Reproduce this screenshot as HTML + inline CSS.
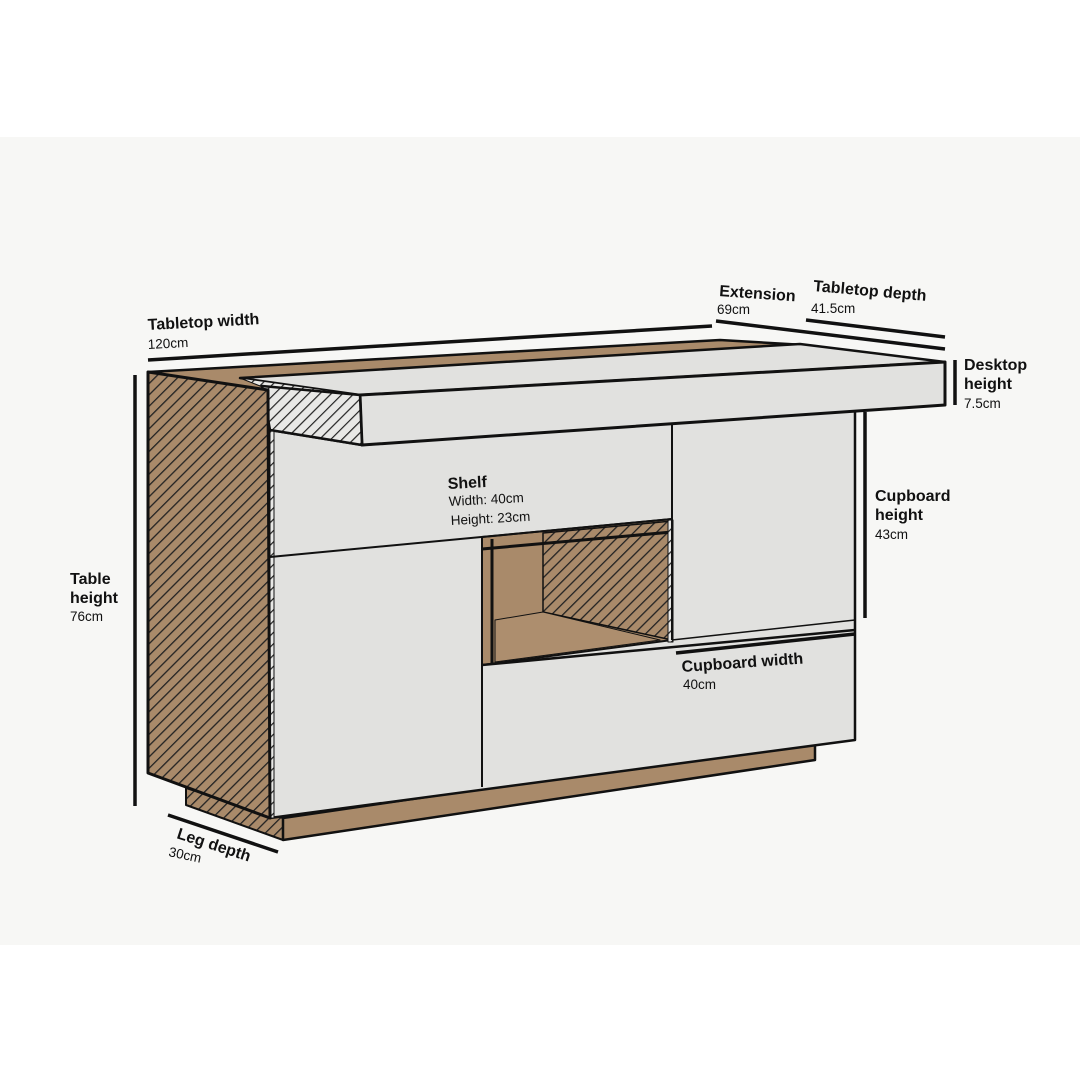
<!DOCTYPE html>
<html><head><meta charset="utf-8"><style>
html,body{margin:0;padding:0;background:#fff}
svg{display:block}
text{font-family:"Liberation Sans",sans-serif;fill:#111}
.b{font-weight:bold;font-size:16px}
.n{font-size:13.5px}
</style></head><body>
<svg width="1080" height="1080" viewBox="0 0 1080 1080" xmlns="http://www.w3.org/2000/svg">
<defs>
<pattern id="h" patternUnits="userSpaceOnUse" width="8" height="8" patternTransform="rotate(45)">
<rect width="8" height="8" fill="#a98a6a"/><rect width="1.3" height="8" fill="#222"/>
</pattern>
<pattern id="hw" patternUnits="userSpaceOnUse" width="8" height="8" patternTransform="rotate(45)">
<rect width="8" height="8" fill="#e8e8e6"/><rect width="1.2" height="8" fill="#222"/>
</pattern>
</defs>
<rect x="0" y="137" width="1080" height="808" fill="#f7f7f5"/>
<g stroke="#111" stroke-linejoin="round">
<polygon points="148,372 720,340 805,345 270,392" fill="#a98a6a" stroke-width="2.5"/>
<polygon points="186,788 283,818 283,840 186,805" fill="url(#h)" stroke-width="2"/>
<polygon points="283,818 815,740 815,760 283,840" fill="#a98a6a" stroke-width="2.5"/>
<polygon points="270,430 362,445 855,410 855,740 270,818" fill="#e1e1df" stroke-width="2.5"/>
<rect x="270" y="430" width="4" height="388" fill="url(#hw)" stroke-width="1"/>
<polygon points="482,537 672,519 672,640 482,665" fill="#a98a6a" stroke-width="2"/>
<polygon points="543,533 672,521 672,640 543,612" fill="url(#h)" stroke-width="1.5"/>
<polygon points="495,620 543,612 660,640 495,662" fill="#ad8e6e" stroke-width="1"/>
<line x1="492" y1="539" x2="492" y2="664" stroke-width="3"/>
<line x1="482" y1="549" x2="672" y2="532" stroke-width="3"/>
<rect x="668" y="520" width="5" height="122" fill="url(#hw)" stroke-width="1"/>
<line x1="270" y1="557" x2="672" y2="519" stroke-width="2"/>
<line x1="672" y1="425" x2="672" y2="640" stroke-width="2"/>
<line x1="482" y1="537" x2="482" y2="787" stroke-width="2"/>
<line x1="482" y1="665" x2="855" y2="630" stroke-width="2.5"/>
<line x1="672" y1="640" x2="855" y2="620" stroke-width="1.5"/>
<polygon points="240,378 800,344 945,362 360,395" fill="#e1e1df" stroke-width="2.5"/>
<polygon points="240,378 360,395 270,390" fill="url(#hw)" stroke-width="1"/>
<polygon points="360,395 945,362 945,405 362,445" fill="#e1e1df" stroke-width="3"/>
<polygon points="262,386 360,395 362,445 270,430" fill="url(#hw)" stroke-width="2.5"/>
<polygon points="148,372 268,390 270,818 148,773" fill="url(#h)" stroke-width="3"/>
<g stroke-width="3.5" fill="none">
<line x1="148" y1="360" x2="712" y2="326"/>
<line x1="716" y1="321" x2="945" y2="349"/>
<line x1="806" y1="320" x2="945" y2="337"/>
<line x1="955" y1="360" x2="955" y2="405"/>
<line x1="865" y1="412" x2="865" y2="618"/>
<line x1="135" y1="375" x2="135" y2="806"/>
<line x1="168" y1="815" x2="278" y2="852"/>
<line x1="676" y1="653" x2="855" y2="634"/>
</g>
</g>
<text class="b" x="148" y="330" transform="rotate(-3 148 330)">Tabletop width</text>
<text class="n" x="148" y="349" transform="rotate(-3 148 349)">120cm</text>
<text class="b" x="719" y="296" transform="rotate(4 719 296)">Extension</text>
<text class="n" x="717" y="314">69cm</text>
<text class="b" x="813" y="291" transform="rotate(5 813 291)">Tabletop depth</text>
<text class="n" x="811" y="313">41.5cm</text>
<text class="b" x="964" y="370">Desktop</text>
<text class="b" x="964" y="389">height</text>
<text class="n" x="964" y="408">7.5cm</text>
<text class="b" x="875" y="501">Cupboard</text>
<text class="b" x="875" y="520">height</text>
<text class="n" x="875" y="539">43cm</text>
<text class="b" x="448" y="489" transform="rotate(-3 448 489)">Shelf</text>
<text class="n" x="449" y="506" transform="rotate(-3 449 506)">Width: 40cm</text>
<text class="n" x="451" y="525" transform="rotate(-3 451 525)">Height: 23cm</text>
<text class="b" x="70" y="584">Table</text>
<text class="b" x="70" y="603">height</text>
<text class="n" x="70" y="621">76cm</text>
<text class="b" x="682" y="672" transform="rotate(-4 682 672)">Cupboard width</text>
<text class="n" x="683" y="689">40cm</text>
<text class="b" x="176" y="838" transform="rotate(18 176 838)">Leg depth</text>
<text class="n" x="168" y="856" transform="rotate(12 168 856)">30cm</text>
</svg>
</body></html>
